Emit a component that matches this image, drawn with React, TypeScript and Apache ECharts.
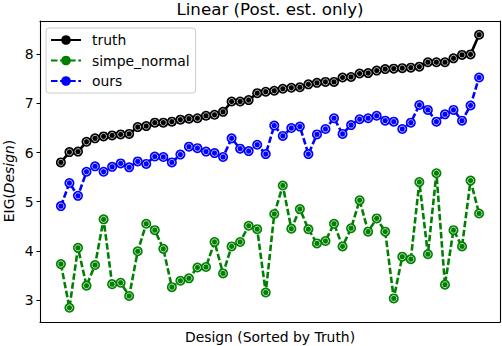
import React, { useEffect, useRef } from "react";
import * as echarts from "echarts";

const seriesNames = ["truth", "simpe_normal", "ours"];
const seriesColors = ["#000000", "#008000", "#0000ff"];

const truth = [
  5.8, 6.01, 6.02, 6.22, 6.29, 6.33, 6.35, 6.37, 6.38, 6.52,
  6.54, 6.61, 6.61, 6.63, 6.67, 6.69, 6.7, 6.75, 6.77, 6.83,
  7.04, 7.04, 7.07, 7.21, 7.24, 7.26, 7.3, 7.32, 7.33, 7.39,
  7.42, 7.44, 7.44, 7.53, 7.54, 7.61, 7.62, 7.67, 7.7, 7.71,
  7.72, 7.73, 7.75, 7.84, 7.84, 7.84, 7.92, 7.99, 8.0, 8.4,
];

const simpeNormal = [
  3.73, 2.84, 4.06, 3.29, 3.71, 4.64, 3.32, 3.35, 3.08, 3.99,
  4.55, 4.42, 4.04, 3.26, 3.39, 3.44, 3.66, 3.67, 4.18, 3.54,
  4.09, 4.18, 4.51, 4.44, 3.15, 4.75, 5.33, 4.45, 4.85, 4.44,
  4.15, 4.2, 4.55, 4.09, 4.46, 5.03, 4.39, 4.66, 4.39, 3.03,
  3.88, 3.83, 5.4, 3.93, 5.58, 3.31, 4.42, 4.09, 5.43, 4.76,
];

const ours = [
  4.91, 5.38, 5.12, 5.61, 5.72, 5.61, 5.71, 5.78, 5.7, 5.82,
  5.77, 5.92, 5.91, 5.8, 5.96, 6.12, 6.09, 6.02, 5.99, 5.91,
  6.29, 6.08, 6.03, 6.16, 5.97, 6.55, 6.34, 6.5, 6.53, 5.97,
  6.37, 6.48, 6.7, 6.38, 6.56, 6.68, 6.7, 6.75, 6.65, 6.63,
  6.48, 6.61, 6.97, 6.87, 6.63, 6.78, 6.87, 6.65, 6.96, 7.53,
];

const yTicks = [3, 4, 5, 6, 7, 8];

const titleText = "Linear (Post. est. only)";
const xLabelText = "Design (Sorted by Truth)";

const FONT = "DejaVu Sans";
const X_MIN = -2.45;
const X_MAX = 51.45;
const Y_MIN = 2.55;
const Y_MAX = 8.68;

export default function App() {
  const ref = useRef<HTMLDivElement>(null);

  useEffect(() => {
    const chart = echarts.init(ref.current as HTMLDivElement, null, { renderer: "svg" });
    const sets = [truth, simpeNormal, ours];

    const mainSeries = sets.map((vals, k) => ({
      name: seriesNames[k],
      type: "line",
      xAxisIndex: 0,
      yAxisIndex: 0,
      data: vals.map((v, i) => [i, v]),
      symbol: "circle",
      symbolSize: 10,
      showSymbol: true,
      itemStyle: { color: seriesColors[k] },
      lineStyle: {
        color: seriesColors[k],
        width: 2.6,
        type: k === 0 ? "solid" : [6.5, 2.6],
      },
      emphasis: { disabled: true },
      z: 2 + k * 2,
    }));

    const ringSeries = sets.map((vals, k) => ({
      name: seriesNames[k] + "_ring",
      type: "scatter",
      xAxisIndex: 0,
      yAxisIndex: 0,
      data: vals.map((v, i) => [i, v]),
      symbol: "circle",
      symbolSize: 6,
      itemStyle: { color: seriesColors[k], borderColor: "#ffffff", borderWidth: 0.9 },
      emphasis: { disabled: true },
      silent: true,
      z: 3 + k * 2,
    }));

    const frameLine = { show: true, onZero: false, lineStyle: { color: "#000000", width: 1.1 } };

    chart.setOption({
      animation: false,
      textStyle: { fontFamily: FONT },
      grid: {
        left: 40,
        right: 2,
        top: 21,
        bottom: 24,
      },
      xAxis: [
        {
          type: "value",
          position: "bottom",
          min: X_MIN,
          max: X_MAX,
          axisLine: frameLine,
          axisTick: { show: false },
          axisLabel: { show: false },
          splitLine: { show: false },
        },
        {
          type: "value",
          position: "top",
          min: X_MIN,
          max: X_MAX,
          axisLine: frameLine,
          axisTick: { show: false },
          axisLabel: { show: false },
          splitLine: { show: false },
        },
      ],
      yAxis: [
        {
          type: "value",
          position: "left",
          min: Y_MIN,
          max: Y_MAX,
          axisLine: frameLine,
          axisTick: {
            show: true,
            length: 3.5,
            customValues: yTicks,
            lineStyle: { color: "#000000", width: 1 },
          },
          axisLabel: {
            show: true,
            customValues: yTicks,
            margin: 6.5,
            fontSize: 13.9,
            color: "#000000",
            fontFamily: FONT,
          },
          splitLine: { show: false },
        },
        {
          type: "value",
          position: "right",
          min: Y_MIN,
          max: Y_MAX,
          axisLine: frameLine,
          axisTick: { show: false },
          axisLabel: { show: false },
          splitLine: { show: false },
        },
      ],
      legend: {
        data: seriesNames,
        orient: "vertical",
        left: 46,
        top: 28,
        padding: [5, 6, 5, 4],
        itemWidth: 30,
        itemHeight: 12,
        itemGap: 6.5,
        borderColor: "#cccccc",
        borderWidth: 1,
        borderRadius: 3,
        backgroundColor: "rgba(255,255,255,0.8)",
        textStyle: { fontSize: 13.9, color: "#000000", fontFamily: FONT, padding: [0, 0, 0, 6] },
        selectedMode: false,
      },
      graphic: [
        {
          type: "text",
          x: 270,
          y: 9,
          style: {
            text: titleText,
            font: `16.7px "${FONT}"`,
            fill: "#000000",
            textAlign: "center",
            textVerticalAlign: "middle",
          },
        },
        {
          type: "text",
          x: 270,
          y: 336.5,
          style: {
            text: xLabelText,
            font: `13.9px "${FONT}"`,
            fill: "#000000",
            textAlign: "center",
            textVerticalAlign: "middle",
          },
        },
        {
          type: "text",
          x: 9.4,
          y: 181,
          rotation: Math.PI / 2,
          style: {
            text: "EIG({i|Design})",
            font: `13.9px "${FONT}"`,
            fill: "#000000",
            textAlign: "center",
            textVerticalAlign: "middle",
            rich: {
              i: { fontStyle: "italic", fontSize: 13.9, fontFamily: FONT, fill: "#000000" },
            },
          },
        },
      ],
      series: [...mainSeries, ...ringSeries],
    });

    return () => {
      chart.dispose();
    };
  }, []);

  return <div ref={ref} style={{ width: 502, height: 346, position: "absolute", left: 0, top: 0 }} />;
}
